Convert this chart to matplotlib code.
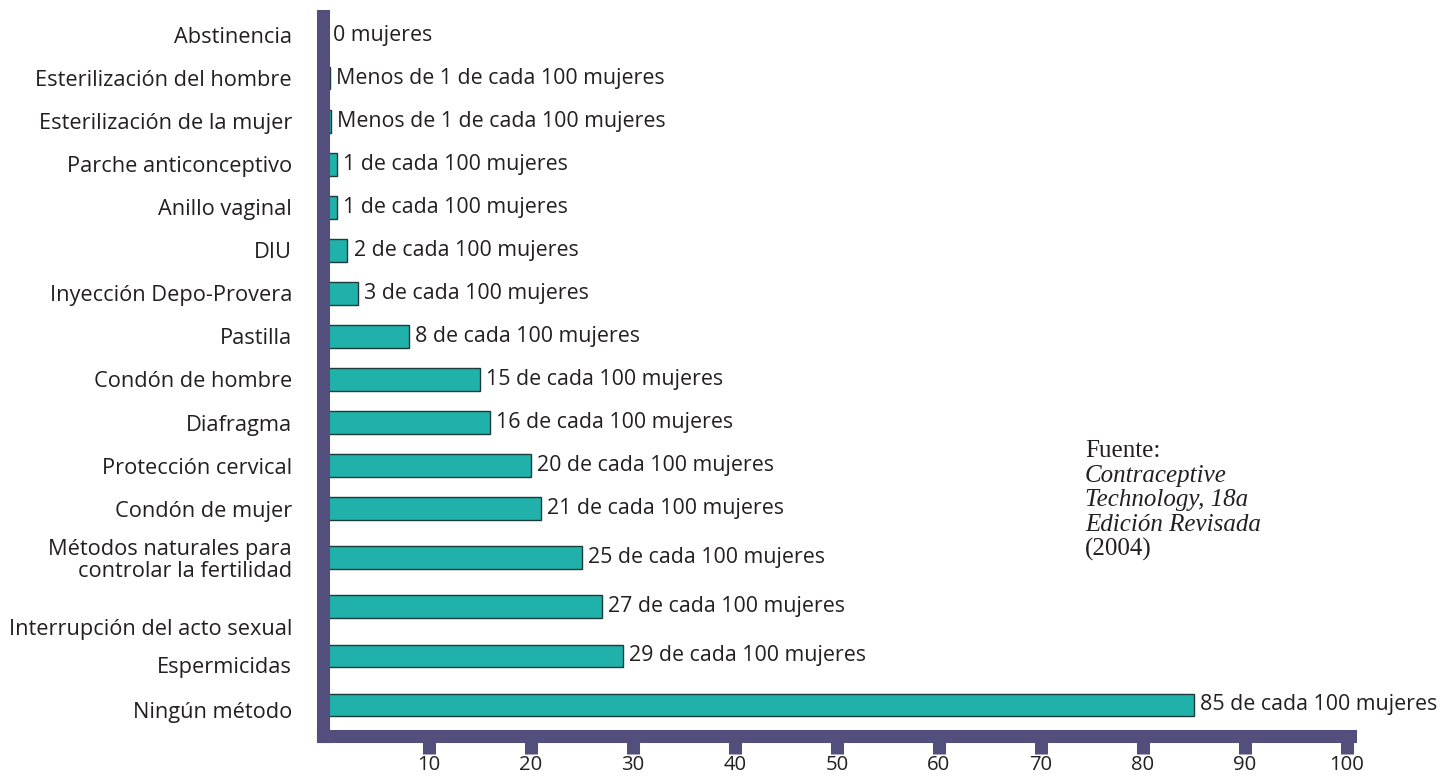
import numpy as np
import matplotlib.pyplot as plt
from matplotlib.transforms import ScaledTranslation

plt.rcParams.update({
    'font.family': ['Open Sans', 'DejaVu Sans'],
    'font.size': 15,
})

# data
metodos = [
    "Abstinencia",
    "Esterilización del hombre",
    "Esterilización de la mujer",
    "Parche anticonceptivo",
    "Anillo vaginal",
    "DIU",
    "Inyección Depo-Provera",
    "Pastilla",
    "Condón de hombre",
    "Diafragma",
    "Protección cervical",
    "Condón de mujer",
    "Métodos naturales para\ncontrolar la fertilidad",
    "Interrupción del acto sexual",
    "Espermicidas",
    "Ningún método",
]
embarazos = [0, 0.3, 0.4, 1, 1, 2, 3, 8, 15, 16, 20, 21, 25, 27, 29, 85]
etiquetas = [
    "0 mujeres",
    "Menos de 1 de cada 100 mujeres",
    "Menos de 1 de cada 100 mujeres",
    "1 de cada 100 mujeres",
    "1 de cada 100 mujeres",
    "2 de cada 100 mujeres",
    "3 de cada 100 mujeres",
    "8 de cada 100 mujeres",
    "15 de cada 100 mujeres",
    "16 de cada 100 mujeres",
    "20 de cada 100 mujeres",
    "21 de cada 100 mujeres",
    "25 de cada 100 mujeres",
    "27 de cada 100 mujeres",
    "29 de cada 100 mujeres",
    "85 de cada 100 mujeres",
]
xticks = [10, 20, 30, 40, 50, 60, 70, 80, 90, 100]
fuente = ["Fuente:", "Contraceptive", "Technology, 18a",
          "Edición Revisada", "(2004)"]
fuente_estilo = ['normal', 'italic', 'italic', 'italic', 'normal']

BAR_COLOR = '#20B2AA'
AXIS_COLOR = '#524F7C'
TEXT_COLOR = '#231f20'

# row positions: the last rows sit a bit further apart in the original
idx = np.arange(len(metodos))
pos = idx + 0.14 * np.clip(idx - 11, 0, None)

W, H = 1452, 779
fig = plt.figure(figsize=(W / 100, H / 100), dpi=100)
# spines are drawn with projecting caps, so the box is inset by half their width
ax = fig.add_axes([322.5 / W, 1 - 736 / H, (1349.5 - 322.5) / W, (736 - 16.5) / H])

ax.barh(pos, embarazos, height=0.53, color=BAR_COLOR,
        edgecolor='#1d3b3b', linewidth=1.0, zorder=2)

for p, v, t in zip(pos, embarazos, etiquetas):
    ax.text(v + 0.6, p, t, va='center', ha='left', fontsize=15.4, color=TEXT_COLOR)

ax.set_xlim(-0.44, 100.25)
ax.set_ylim(16.28, -0.43)

ax.set_yticks(pos)
ax.set_yticklabels(metodos, fontsize=15.7, color=TEXT_COLOR,
                   multialignment='right', linespacing=1.05)
ax.tick_params(axis='y', length=0, pad=22)

# in the original the lowest row names sit a little below their bars
desplazar = {13: 20, 14: 9, 15: 5}   # pixels down
for i, lab in enumerate(ax.get_yticklabels()):
    if i in desplazar:
        lab.set_transform(lab.get_transform() +
                          ScaledTranslation(0, -desplazar[i] / 100, fig.dpi_scale_trans))

ax.set_xticks(xticks)
ax.set_xticklabels([str(t) for t in xticks], fontsize=14.6, color=TEXT_COLOR)
ax.tick_params(axis='x', direction='out', length=13.3, width=9.4,
               color=AXIS_COLOR, pad=0.5)

for side in ['top', 'right']:
    ax.spines[side].set_visible(False)
for side in ['left', 'bottom']:
    ax.spines[side].set_linewidth(9.4)
    ax.spines[side].set_color(AXIS_COLOR)
    ax.spines[side].set_capstyle('projecting')

# source note
for i, (txt, style) in enumerate(zip(fuente, fuente_estilo)):
    fig.text(1085 / W, 1 - (451 + i * 24.7) / H, txt, family='Liberation Serif',
             style=style, fontsize=18, va='center', ha='left', color=TEXT_COLOR)

fig.savefig("out.png", dpi=100)
